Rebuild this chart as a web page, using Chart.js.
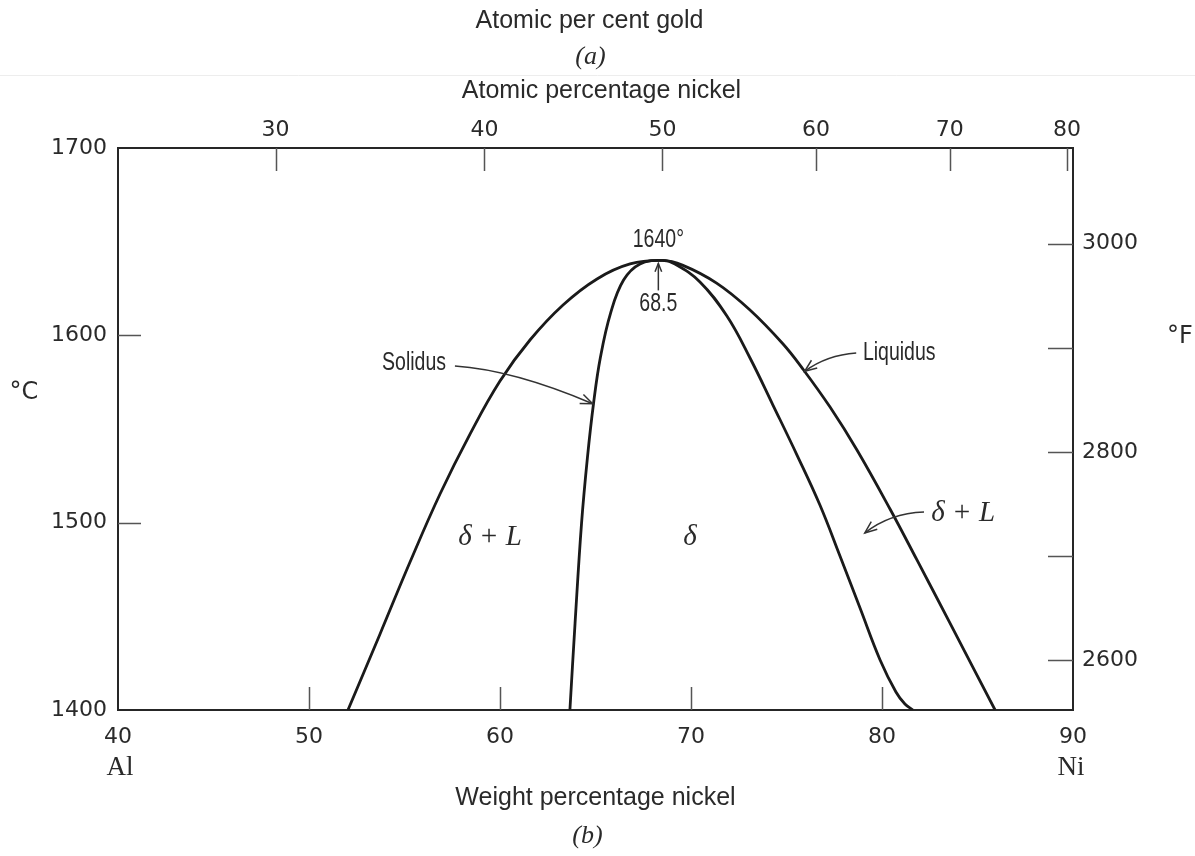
<!DOCTYPE html>
<html>
<head>
<meta charset="utf-8">
<script src="https://cdn.jsdelivr.net/npm/chart.js@4.4.1/dist/chart.umd.min.js"></script>
<style>
  html, body { margin: 0; padding: 0; background: #fff; }
  #wrap { width: 1195px; height: 856px; position: relative; }
</style>
</head>
<body>
<div id="wrap"><canvas id="c" width="1195" height="856"></canvas></div>
<script>
// Ni–Al system around the δ (NiAl) phase: liquidus and solidus, weight % Ni vs temperature.
const liquidusWt = [52.04, 53.72, 55.29, 56.86, 58.43, 60.00, 61.57, 63.30, 65.08, 66.81, 68.5,
                    69.55, 71.34, 73.06, 74.82, 75.86, 77.28, 78.69, 80.42, 81.83, 83.56, 85.92];
const liquidusT  = [1400, 1440.6, 1479.0, 1515.3, 1547.3, 1575.6, 1597.5, 1616.2, 1630.1, 1638.1, 1640,
                    1637.5, 1627.9, 1613.8, 1595.4, 1582.0, 1561.7, 1538.8, 1507.3, 1480.1, 1446.4, 1400];
const solidusWt  = [63.66, 63.93, 64.27, 64.58, 64.90, 65.26, 65.79, 66.47, 67.33, 68.5,
                    69.16, 70.47, 71.88, 73.09, 74.29, 75.55, 76.75, 77.80, 78.85, 79.90, 80.73, 81.20, 81.62];
const solidusT   = [1400, 1446.4, 1499.8, 1535.0, 1563.9, 1588.4, 1611.9, 1629.5, 1638.1, 1640,
                    1638.1, 1628.5, 1610.3, 1587.9, 1562.8, 1536.1, 1509.4, 1482.2, 1454.4, 1426.7, 1409.6, 1403.2, 1400];

// Congruent melting point of δ
const peakWt = 68.5;
const peakT = 1640;

// Axis ticks
const weightTicks = [40, 50, 60, 70, 80, 90];
const atomicTicks = [30, 40, 50, 60, 70, 80];
const celsiusTicks = [1400, 1500, 1600, 1700];
const fahrenheitTicks = [2600, 2700, 2800, 2900, 3000];
const fahrenheitLabels = [2600, 2800, 3000];

// Conversions for the secondary axes
const NI = 58.69, AL = 26.98;
const atToWt = a => 100 * a * NI / (a * NI + (100 - a) * AL);
const cToF = c => c * 9 / 5 + 32;

const INK = '#1a1a1a';
const TXT = '#2a2a2a';
const AXIS = '#262626';
const TICK = '#555';
const numFont = { family: '"DejaVu Sans", sans-serif', size: 22 };
const SANS = '"Liberation Sans", Arial, sans-serif';

const toPoints = (xs, ys) => xs.map((x, i) => ({ x, y: ys[i] }));

// Inward tick marks on all four sides
const innerTicks = {
  id: 'innerTicks',
  afterDraw(chart) {
    const { ctx, chartArea: a, scales } = chart;
    const L = 23;
    ctx.save();
    ctx.strokeStyle = TICK;
    ctx.lineWidth = 1.5;
    ctx.beginPath();
    scales.x.ticks.forEach(t => {
      if (t.value <= scales.x.min || t.value >= scales.x.max) return;
      const x = Math.round(scales.x.getPixelForValue(t.value)) + 0.5;
      ctx.moveTo(x, a.bottom); ctx.lineTo(x, a.bottom - L);
    });
    scales.xTop.ticks.forEach(t => {
      const x = Math.round(scales.xTop.getPixelForValue(t.value)) + 0.5;
      ctx.moveTo(x, a.top); ctx.lineTo(x, a.top + L);
    });
    scales.y.ticks.forEach(t => {
      if (t.value <= scales.y.min || t.value >= scales.y.max) return;
      const y = Math.round(scales.y.getPixelForValue(t.value)) + 0.5;
      ctx.moveTo(a.left, y); ctx.lineTo(a.left + L, y);
    });
    scales.yF.ticks.forEach(t => {
      const y = Math.round(scales.yF.getPixelForValue(t.value)) + 0.5;
      ctx.moveTo(a.right, y); ctx.lineTo(a.right - L - 2, y);
    });
    ctx.stroke();
    ctx.restore();
  }
};

function arrow(ctx, s, c, e, head) {
  ctx.beginPath();
  ctx.moveTo(s[0], s[1]);
  ctx.quadraticCurveTo(c[0], c[1], e[0], e[1]);
  ctx.stroke();
  const ang = Math.atan2(e[1] - c[1], e[0] - c[0]);
  ctx.beginPath();
  ctx.moveTo(e[0] - head * Math.cos(ang - 0.38), e[1] - head * Math.sin(ang - 0.38));
  ctx.lineTo(e[0], e[1]);
  ctx.lineTo(e[0] - head * Math.cos(ang + 0.38), e[1] - head * Math.sin(ang + 0.38));
  ctx.stroke();
}

// condensed lettering for the curve annotations
function narrowText(ctx, text, x, y, align) {
  ctx.save();
  ctx.translate(x, y);
  ctx.scale(0.75, 1);
  ctx.textAlign = align || 'center';
  ctx.fillText(text, 0, 0);
  ctx.restore();
}

// Titles, phase labels and pointer arrows
const labels = {
  id: 'labels',
  afterDraw(chart) {
    const { ctx, scales, width } = chart;
    const P = (wt, t) => [scales.x.getPixelForValue(wt), scales.y.getPixelForValue(t)];
    const cx = (scales.x.left + scales.x.right) / 2;
    ctx.save();
    ctx.fillStyle = TXT;
    ctx.textBaseline = 'middle';
    ctx.textAlign = 'center';

    // header block
    ctx.font = '25px ' + SANS;
    ctx.fillText('Atomic per cent gold', cx - 6, 21);
    ctx.font = 'italic 26px "Liberation Serif", serif';
    ctx.fillText('(a)', cx - 5, 57);
    ctx.strokeStyle = '#ededed';
    ctx.lineWidth = 1;
    ctx.beginPath(); ctx.moveTo(0, 75.5); ctx.lineTo(width, 75.5); ctx.stroke();
    ctx.font = '25px ' + SANS;
    ctx.fillText('Atomic percentage nickel', cx + 6, 91);

    // bottom block
    ctx.fillText('Weight percentage nickel', cx, 798);
    ctx.font = 'italic 26px "Liberation Serif", serif';
    ctx.fillText('(b)', cx - 8, 836);
    ctx.font = '27px "Liberation Serif", serif';
    ctx.fillText('Al', scales.x.getPixelForValue(40) + 2, 768);
    ctx.fillText('Ni', scales.x.getPixelForValue(90) - 2, 768);

    // unit labels
    ctx.font = '24px "DejaVu Sans", sans-serif';
    ctx.fillText('°C', 24, 393);
    ctx.fillText('°F', 1180, 337);

    // peak annotations
    const pk = P(peakWt, peakT);
    const ax = pk[0] - 4;
    ctx.font = '26px ' + SANS;
    narrowText(ctx, '1640°', ax, pk[1] - 21);
    narrowText(ctx, '68.5', ax, pk[1] + 43);
    ctx.strokeStyle = '#333';
    ctx.lineWidth = 1.5;
    arrow(ctx, [ax, pk[1] + 30], [ax, pk[1] + 15], [ax, pk[1] + 3], 9);

    // curve names with pointers
    let p = P(55.5, 1585.2);
    narrowText(ctx, 'Solidus', p[0], p[1]);
    arrow(ctx, P(57.64, 1583.6), P(60.7, 1581.5), P(64.85, 1563.5), 13);
    p = P(79.0, 1590.6);
    narrowText(ctx, 'Liquidus', p[0], p[1], 'left');
    arrow(ctx, P(78.65, 1590.6), P(77.1, 1589.5), P(75.95, 1580.8), 13);

    // phase fields
    ctx.textAlign = 'center';
    ctx.font = 'italic 29px "Liberation Serif", serif';
    p = P(59.48, 1492.3);
    ctx.fillText('δ + L', p[0], p[1]);
    p = P(69.95, 1492.3);
    ctx.fillText('δ', p[0], p[1]);
    p = P(84.25, 1505.2);
    ctx.fillText('δ + L', p[0], p[1]);
    arrow(ctx, P(82.2, 1505.7), P(80.4, 1505), P(79.1, 1494.5), 13);

    ctx.restore();
  }
};

const curveStyle = {
  showLine: true,
  borderColor: INK,
  borderWidth: 2.8,
  pointRadius: 0,
  fill: false,
  tension: 0.4,
  xAxisID: 'x',
  yAxisID: 'y'
};

const tickText = (pad) => ({ color: TXT, font: numFont, padding: pad, autoSkip: false, maxRotation: 0 });
const frame = { display: true, color: AXIS, width: 2 };
const noGrid = { display: false, drawTicks: false, tickLength: 0 };

new Chart(document.getElementById('c'), {
  type: 'scatter',
  data: {
    datasets: [
      Object.assign({ label: 'Liquidus', data: toPoints(liquidusWt, liquidusT) }, curveStyle),
      Object.assign({ label: 'Solidus', data: toPoints(solidusWt, solidusT) }, curveStyle)
    ]
  },
  options: {
    responsive: false,
    animation: false,
    layout: { padding: 0 },
    plugins: { legend: { display: false }, tooltip: { enabled: false } },
    scales: {
      x: {
        type: 'linear', position: 'bottom', min: 40, max: 90,
        afterBuildTicks: s => { s.ticks = weightTicks.map(v => ({ value: v })); },
        afterFit: s => { s.height = 146; },
        grid: noGrid, border: frame,
        ticks: Object.assign(tickText(14), { callback: v => String(v) })
      },
      xTop: {
        type: 'linear', position: 'top', min: 40, max: 90,
        afterBuildTicks: s => { s.ticks = atomicTicks.map(a => ({ value: atToWt(a) })); },
        afterFit: s => { s.height = 148; },
        grid: noGrid, border: frame,
        ticks: Object.assign(tickText(5), { callback: (v, i) => String(atomicTicks[i]) })
      },
      y: {
        type: 'linear', position: 'left', min: 1400, max: 1700,
        afterBuildTicks: s => { s.ticks = celsiusTicks.map(v => ({ value: v })); },
        afterFit: s => { s.width = 118; },
        grid: noGrid, border: frame,
        ticks: Object.assign(tickText(11), { callback: v => String(v) })
      },
      yF: {
        type: 'linear', position: 'right', min: cToF(1400), max: cToF(1700),
        afterBuildTicks: s => { s.ticks = fahrenheitTicks.map(v => ({ value: v })); },
        afterFit: s => { s.width = 122; },
        grid: noGrid, border: frame,
        ticks: Object.assign(tickText(9), { callback: v => fahrenheitLabels.includes(v) ? String(v) : '' })
      }
    }
  },
  plugins: [innerTicks, labels]
});
</script>
</body>
</html>
